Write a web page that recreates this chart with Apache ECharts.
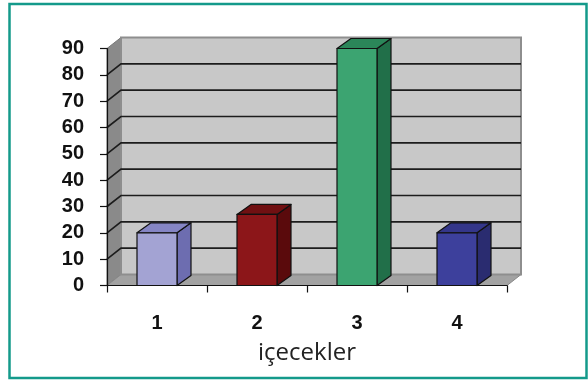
<!DOCTYPE html>
<html>
<head>
<meta charset="utf-8">
<script src="https://cdn.jsdelivr.net/npm/echarts@6/dist/echarts.min.js"></script>
<style>
  html, body { margin: 0; padding: 0; background: #fff; }
  #chart { width: 588px; height: 382px; }
</style>
</head>
<body>
<div id="chart"></div>
<script>
const categories = ["1", "2", "3", "4"];
const values = [20, 27, 90, 20];
const yTicks = [0, 10, 20, 30, 40, 50, 60, 70, 80, 90];

// front / side / top colour per bar
const palette = [
  ["#a3a3d3", "#6d6db0", "#8585c4"],
  ["#8c1619", "#5a0a0c", "#701012"],
  ["#3ca471", "#216f49", "#2b8659"],
  ["#3d409c", "#2a2c70", "#34368a"],
];

const dx = 14, dy = -11; // depth of the 3d walls
const bdx = 14, bdy = -10; // depth of the bars

const chart = echarts.init(document.getElementById("chart"));

const renderWalls = (params, api) => {
  const cs = params.coordSys;
  const x0 = cs.x, x1 = cs.x + cs.width;
  const y0 = cs.y + cs.height, yt = cs.y;
  const children = [
    {
      type: "polygon",
      shape: { points: [[x0, y0], [x0 + dx, y0 + dy], [x0 + dx, yt + dy], [x0, yt]] },
      style: { fill: "#8a8a8a", stroke: "#777", lineWidth: 1 },
    },
    {
      type: "polygon",
      shape: { points: [[x0, y0], [x1, y0], [x1 + dx, y0 + dy], [x0 + dx, y0 + dy]] },
      style: { fill: "#a2a2a2", stroke: "#888", lineWidth: 1 },
    },
    {
      type: "rect",
      shape: { x: x0 + dx, y: yt + dy, width: cs.width, height: cs.height },
      style: { fill: "#c8c8c8", stroke: "#8e8e8e", lineWidth: 2 },
    },
  ];
  yTicks.forEach((v) => {
    if (v === 0 || v === yTicks[yTicks.length - 1]) return;
    const y = api.coord([0, v])[1];
    children.push({
      type: "polyline",
      shape: { points: [[x0, y], [x0 + dx, y + dy], [x1 + dx, y + dy]] },
      style: { stroke: "#1c1c1c", lineWidth: 1.6, fill: null },
    });
  });
  return { type: "group", children };
};

const renderBar = (params, api) => {
  const i = api.value(0);
  const top = api.coord([i, api.value(1)]);
  const base = api.coord([i, 0]);
  const w = api.size([1, 0])[0] * 0.4;
  const xl = top[0] - w / 2, xr = top[0] + w / 2;
  const c = palette[params.dataIndex];
  const edge = { stroke: "#111", lineWidth: 1.2, lineJoin: "round" };
  return {
    type: "group",
    children: [
      {
        type: "polygon",
        shape: { points: [[xr, top[1]], [xr + bdx, top[1] + bdy], [xr + bdx, base[1] + bdy], [xr, base[1]]] },
        style: Object.assign({ fill: c[1] }, edge),
      },
      {
        type: "polygon",
        shape: { points: [[xl, top[1]], [xl + bdx, top[1] + bdy], [xr + bdx, top[1] + bdy], [xr, top[1]]] },
        style: Object.assign({ fill: c[2] }, edge),
      },
      {
        type: "rect",
        shape: { x: xl, y: top[1], width: w, height: base[1] - top[1] },
        style: Object.assign({ fill: c[0] }, edge),
      },
    ],
  };
};

const labelFont = {
  color: "#111",
  fontSize: 20,
  fontWeight: "bold",
  fontFamily: "Liberation Sans, Arial, sans-serif",
};

const option = {
  animation: false,
  backgroundColor: "#fff",
  graphic: [
    {
      type: "rect",
      shape: { x: 9.5, y: 4, width: 577, height: 374 },
      style: { fill: null, stroke: "#149a8b", lineWidth: 2.5 },
      z: 10,
    },
  ],
  grid: { left: 107, right: 81, top: 48.5, bottom: 96.5, containLabel: false },
  xAxis: {
    type: "category",
    data: categories,
    z: 3,
    axisLine: { lineStyle: { color: "#111", width: 1.2 } },
    axisTick: { show: true, length: 7, lineStyle: { color: "#111", width: 1.2 } },
    axisLabel: Object.assign({ margin: 28 }, labelFont),
    name: "içecekler",
    nameLocation: "middle",
    nameGap: 56,
    nameTextStyle: { color: "#222", fontSize: 24, fontFamily: "Open Sans, sans-serif" },
    splitLine: { show: false },
  },
  yAxis: {
    type: "value",
    min: 0,
    max: 90,
    interval: 10,
    z: 3,
    axisLine: { show: true, lineStyle: { color: "#111", width: 1.2 } },
    axisTick: { show: true, length: 7, lineStyle: { color: "#111", width: 1.2 } },
    axisLabel: Object.assign({ margin: 23 }, labelFont),
    splitLine: { show: false },
  },
  series: [
    {
      type: "custom",
      silent: true,
      z: 1,
      renderItem: renderWalls,
      data: [[0, 0]],
    },
    {
      type: "custom",
      z: 4,
      renderItem: renderBar,
      data: values.map((v, i) => [i, v]),
    },
  ],
};

chart.setOption(option);
</script>
</body>
</html>
